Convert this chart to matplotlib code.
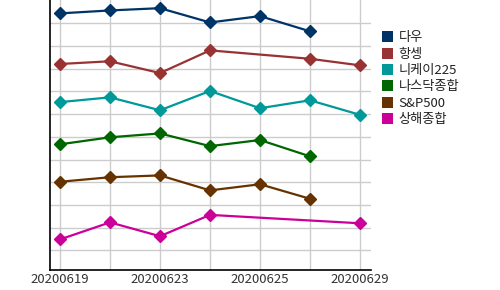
import matplotlib.pyplot as plt
import numpy as np
from matplotlib.patches import Patch

plt.rcParams["font.family"] = ["Noto Sans CJK KR", "DejaVu Sans"]

dates = ["20200619", "20200622", "20200623", "20200624",
         "20200625", "20200626", "20200629"]
nan = np.nan

# relative (normalised) index levels, one row per index
names = ["다우", "항셍", "니케이225", "나스닥종합", "S&P500", "상해종합"]
dow = [10.44, 10.57, 10.67, 10.04, 10.32, 9.65, nan]
hangseng = [8.21, 8.33, 7.81, 8.81, nan, 8.44, 8.15]
nikkei = [6.53, 6.74, 6.17, 7.02, 6.26, 6.61, 5.97]
nasdaq = [4.67, 4.98, 5.15, 4.59, 4.86, 4.14, nan]
sp500 = [3.02, 3.22, 3.30, 2.64, 2.91, 2.27, nan]
shanghai = [0.48, 1.23, 0.62, 1.56, nan, nan, 1.19]
series = [dow, hangseng, nikkei, nasdaq, sp500, shanghai]
colors = ["#003366", "#993333", "#009999", "#006600", "#663300", "#cc0099"]

fig = plt.figure(figsize=(5.0, 2.9), dpi=100)
ax = fig.add_axes([0.1, 0.069, 0.642, 0.931])

x = np.arange(len(dates))
for vals, c in zip(series, colors):
    v = np.array(vals, dtype=float)
    ok = ~np.isnan(v)
    ax.plot(x[ok], v[ok], "-D", color=c, linewidth=1.6, markersize=6.5)

ax.set_xlim(-0.2, len(dates) - 1 + 0.22)
ax.set_ylim(-0.868, 11.03)
ax.set_xticks(x)
ax.set_xticklabels([d if i % 2 == 0 else "" for i, d in enumerate(dates)])
ax.set_yticks(np.arange(0, 11))
ax.set_yticklabels([])
ax.tick_params(length=0, pad=2, labelsize=9.5, labelcolor="#333333")
ax.grid(True, color="#cccccc", linewidth=1)
ax.set_axisbelow(True)
for s in ["top", "right"]:
    ax.spines[s].set_visible(False)
for s in ["left", "bottom"]:
    ax.spines[s].set_color("black")
    ax.spines[s].set_linewidth(1.2)

handles = [Patch(facecolor=c, edgecolor="none") for c in colors]
fig.legend(handles, names, loc="upper left", bbox_to_anchor=(0.75, 0.915),
           frameon=False, fontsize=9.5, handlelength=0.9, handleheight=0.9,
           handletextpad=0.4, labelspacing=0.25, borderpad=0,
           labelcolor="#222222")

fig.savefig("out.png", dpi=100)
